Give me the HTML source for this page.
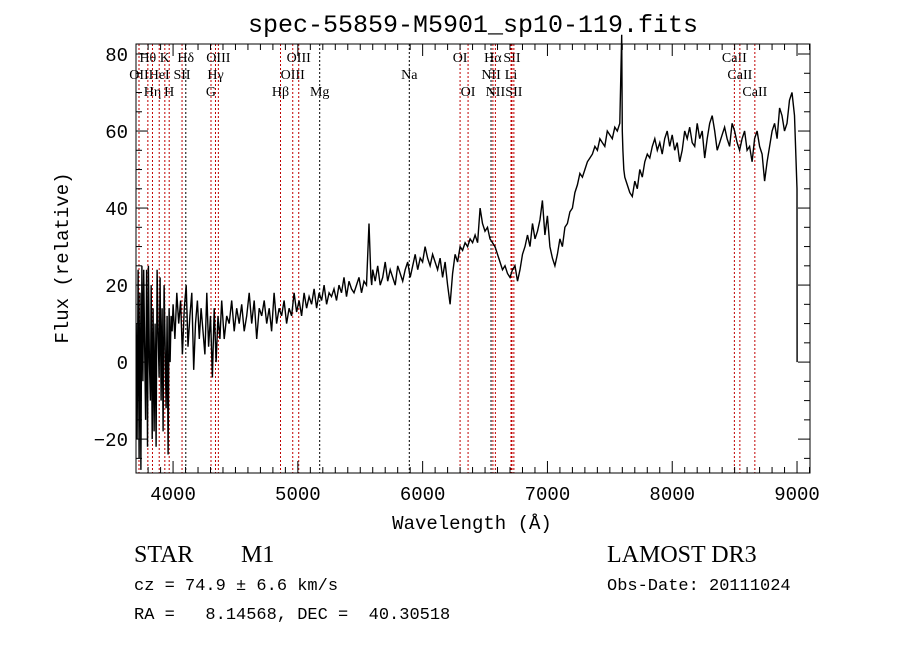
<!DOCTYPE html>
<html><head><meta charset="utf-8"><style>
html,body{margin:0;padding:0;background:#fff;}
svg{display:block;font-family:"Liberation Serif",serif;}
.mono{font-family:"Liberation Mono",monospace;white-space:pre;}
</style></head><body>
<svg id="chart" width="900" height="649" viewBox="0 0 900 649">
<rect width="900" height="649" fill="#fff"/>
<text x="473" y="32" text-anchor="middle" font-size="25" class="mono">spec-55859-M5901_sp10-119.fits</text>
<g id="lines"></g>
<g id="axes"></g>
<path id="spec" fill="none" stroke="#000" stroke-width="1.4"/>
<text x="472" y="529" text-anchor="middle" font-size="19" class="mono">Wavelength (Å)</text>
<text transform="translate(68,258) rotate(-90)" text-anchor="middle" font-size="19" class="mono">Flux (relative)</text>
<text x="134" y="562" font-size="24">STAR</text>
<text x="241" y="562" font-size="24">M1</text>
<text x="607" y="562" font-size="24">LAMOST DR3</text>
<text x="134" y="590" font-size="17" class="mono" xml:space="preserve">cz = 74.9 ± 6.6 km/s</text>
<text x="607" y="590" font-size="17" class="mono">Obs-Date: 20111024</text>
<text x="134" y="619" font-size="17" class="mono" xml:space="preserve">RA =   8.14568, DEC =  40.30518</text>
</svg>
<script>
const xTicks=[4000,5000,6000,7000,8000,9000];
const yTicks=[-20,0,20,40,60,80];
const lineWaves=[3727,3798,3835,3889,3934,3969,4072,4102,4304,4340,4363,4861,4959,5007,5175,5893,6300,6364,6548,6563,6583,6708,6716,6731,8498,8542,8662];
const lineColors=['r','r','r','r','r','r','r','k','r','r','r','r','r','r','k','k','r','r','k','r','r','r','r','r','r','r','r'];
const labelText=['OII','Hθ','Hη','HeI','K','H','SII','Hδ','G','Hγ','OIII','Hβ','OIII','OIII','Mg','Na','OI','OI','NII','Hα','NII','Li','SII','SII','CaII','CaII','CaII'];
const labelRow=[1,0,2,1,0,2,1,0,2,1,0,2,1,0,2,1,0,2,1,0,2,1,0,2,0,1,2];
const waves=[3705,3712,3720,3728,3735,3742,3750,3758,3765,3772,3780,3788,3795,3802,3810,3818,3825,3833,3840,3848,3856,3864,3872,3880,3888,3896,3904,3912,3920,3928,3936,3944,3952,3960,3968,3976,3984,3992,4000,4015,4030,4045,4060,4075,4090,4105,4120,4135,4150,4165,4180,4195,4210,4225,4240,4255,4270,4285,4300,4315,4330,4345,4360,4375,4390,4410,4430,4450,4470,4490,4510,4530,4550,4570,4590,4610,4630,4650,4670,4690,4710,4730,4750,4770,4790,4810,4830,4850,4870,4890,4910,4930,4950,4970,4990,5010,5030,5050,5070,5090,5110,5130,5150,5170,5190,5210,5230,5250,5270,5290,5310,5330,5350,5370,5390,5410,5430,5450,5470,5490,5510,5530,5550,5570,5585,5592,5600,5620,5640,5660,5680,5700,5720,5740,5760,5780,5800,5820,5840,5860,5880,5900,5920,5940,5960,5980,6000,6020,6040,6060,6080,6100,6120,6140,6160,6180,6200,6220,6240,6260,6280,6300,6320,6340,6360,6380,6400,6420,6440,6460,6480,6500,6520,6540,6560,6580,6600,6620,6640,6660,6680,6700,6720,6740,6760,6780,6800,6820,6840,6860,6880,6900,6920,6940,6960,6980,7000,7020,7040,7060,7080,7100,7120,7140,7160,7180,7200,7220,7240,7260,7280,7300,7320,7340,7360,7380,7400,7420,7440,7460,7480,7500,7520,7540,7560,7580,7595,7600,7605,7612,7620,7640,7660,7680,7700,7720,7740,7760,7780,7800,7820,7840,7860,7880,7900,7920,7940,7960,7980,8000,8020,8040,8060,8080,8100,8120,8140,8160,8180,8200,8220,8240,8260,8280,8300,8320,8340,8360,8380,8400,8420,8440,8460,8480,8500,8520,8540,8560,8580,8600,8620,8640,8660,8680,8700,8720,8740,8760,8780,8800,8820,8840,8860,8880,8900,8920,8940,8960,8980];
const flux=[10,-20,24,-25,18,-28,25,-5,24,5,-15,24,-22,25,0,-10,20,-20,14,-18,10,-22,24,8,-4,22,-10,14,-18,20,5,-12,12,-24,14,0,12,8,15,6,18,10,16,2,14,20,4,12,18,-2,10,16,6,14,8,2,18,4,12,-4,14,0,12,6,16,6,12,10,16,8,14,10,15,8,12,18,10,16,6,14,12,16,10,14,8,18,10,14,12,16,10,14,12,18,13,16,12,18,14,17,15,19,14,18,16,20,15,18,17,19,16,20,18,22,17,21,19,18,20,22,18,21,20,36,22,20,24,21,25,20,22,26,21,24,22,20,25,23,21,24,26,22,25,28,24,27,26,30,27,25,28,26,24,27,22,26,20,15,23,28,26,30,29,31,30,32,31,33,31,40,36,34,35,32,31,30,28,26,24,25,23,22,24,25,21,24,28,30,33,30,36,32,34,37,42,33,38,30,27,25,28,32,30,35,36,39,40,44,46,49,48,50,52,53,54,56,55,58,57,56,60,59,58,61,60,62,85,60,55,50,48,46,44,43,47,45,50,48,52,54,53,56,58,55,57,54,58,60,56,59,55,57,52,55,60,58,61,57,56,62,58,60,53,58,62,64,60,55,57,59,61,58,56,62,60,57,55,58,60,55,56,52,58,60,56,54,47,52,56,60,62,58,66,64,60,62,68,70,64,68,66,72,64,66,62,64];
const tailWaves=[9000,9001];
const tailFlux=[45,0];
const X0=3703,X1=9104,Y0=-28.8,Y1=82.6,PL=136,PR=810,PT=44,PB=473;
const xs=w=>PL+(w-X0)/(X1-X0)*(PR-PL);
const ys=f=>PB-(f-Y0)/(Y1-Y0)*(PB-PT);
const NS='http://www.w3.org/2000/svg';
function mk(tag,attrs,parent){const e=document.createElementNS(NS,tag);for(const k in attrs)e.setAttribute(k,attrs[k]);parent.appendChild(e);return e;}
const L=document.getElementById('lines'),A=document.getElementById('axes');
lineWaves.forEach((w,i)=>{
 const x=xs(w);
 const ln=mk('line',{x1:x,x2:x,y1:PT,y2:PB,stroke:lineColors[i]=='r'?'#c00000':'#000','stroke-width':1,'stroke-dasharray':'2,2'},L);
 
 
 const t=mk('text',{x:x,y:PT+18+labelRow[i]*17,'text-anchor':'middle','font-size':14},L);
 t.textContent=labelText[i];
 
 
});
const fr=mk('rect',{x:PL,y:PT,width:PR-PL,height:PB-PT,fill:'none',stroke:'#000','stroke-width':1},A);


for(let w=3800;w<=9100;w+=100){const x=xs(w),len=w%1000==0?12:6;
 mk('line',{x1:x,x2:x,y1:PB,y2:PB-len,stroke:'#000'},A);mk('line',{x1:x,x2:x,y1:PT,y2:PT+len,stroke:'#000'},A);}
for(let f=-25;f<=80;f+=5){const y=ys(f),len=f%20==0?12:6;
 mk('line',{x1:PL,x2:PL+len,y1:y,y2:y,stroke:'#000'},A);mk('line',{x1:PR,x2:PR-len,y1:y,y2:y,stroke:'#000'},A);}
xTicks.forEach(v=>{const t=mk('text',{x:xs(v),y:PB+27,'text-anchor':'middle','font-size':19,class:'mono'},A);t.textContent=v;
 
 });
yTicks.forEach(v=>{const t=mk('text',{x:PL-8,y:ys(v)+7,'text-anchor':'end','font-size':19,class:'mono'},A);t.textContent=v<0?'−'+(-v):v;
 
 });
const n=Math.min(waves.length,flux.length);
const pts=[];
for(let i=0;i<n;i++)pts.push([waves[i],flux[i]]);
for(let i=0;i<tailWaves.length;i++)pts.push([tailWaves[i],tailFlux[i]]);
document.getElementById('spec').setAttribute('d',pts.map((p,i)=>(i?'L':'M')+xs(p[0]).toFixed(1)+','+ys(p[1]).toFixed(1)).join(''));
</script>
</body></html>
